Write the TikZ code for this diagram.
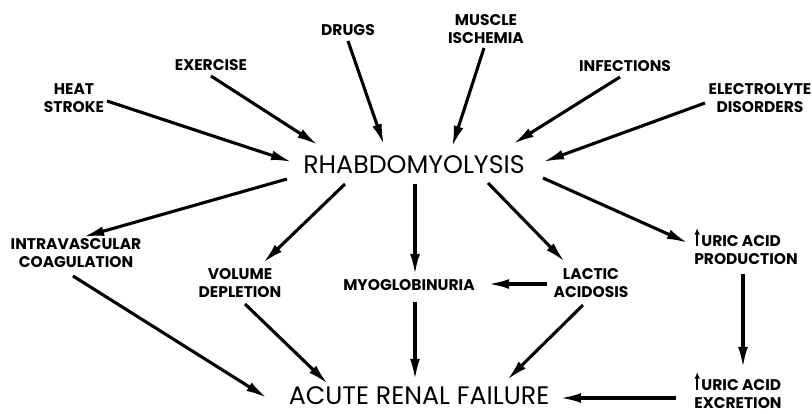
\documentclass[tikz,border=0pt]{standalone}
\usepackage{fontspec}
\setmainfont{Poppins}
\usetikzlibrary{arrows.meta}
\newcommand{\uparr}{\tikz[baseline=0pt]\draw[-{Latex[length=4.5pt,width=4pt]}, line width=1.1pt] (0pt,0pt) -- (0pt,13pt);\kern1pt}

\begin{document}
\begin{tikzpicture}[x=0.025cm, y=-0.025cm, >={Latex[length=15pt,width=7pt]},
  lbl/.style={font=\bfseries\fontsize{11}{12.8}\selectfont, align=center, inner sep=0pt},
  big/.style={font=\fontsize{18}{20}\selectfont, inner sep=0pt},
  arr/.style={->, line width=2.2pt}]
\useasboundingbox (0,0) rectangle (812,414);
% causes
\node[lbl] (heat) at (74,98) {HEAT\\STROKE};
\node[lbl] (exer) at (211,65) {EXERCISE};
\node[lbl] (drugs) at (348,30) {DRUGS};
\node[lbl] (musc) at (486,29) {MUSCLE\\ISCHEMIA};
\node[lbl] (infe) at (625,66) {INFECTIONS};
\node[lbl] (elec) at (760,98) {ELECTROLYTE\\DISORDERS};
\node[big] (rhab) at (414,165) {RHABDOMYOLYSIS};
% consequences
\node[lbl] (intra) at (76,253) {INTRAVASCULAR\\COAGULATION};
\node[lbl] (vol) at (240,283) {VOLUME\\DEPLETION};
\node[lbl] (myo) at (409,285) {MYOGLOBINURIA};
\node[lbl] (lac) at (591,283) {LACTIC\\ACIDOSIS};
\node[lbl, align=left] (uprod) at (746,246) {\uparr URIC ACID\\PRODUCTION};
\node[lbl, align=left] (uexc) at (738,390) {\uparr URIC ACID\\EXCRETION};
\node[big] (arf) at (419,396) {ACUTE RENAL FAILURE};
% arrows into rhabdomyolysis
\draw[arr] ([shift={(33,3)}]heat.center) -- ([shift={(-122,-3)}]rhab.center);
\draw[arr] ([shift={(0,11)}]exer.center) -- ([shift={(-96,-20)}]rhab.center);
\draw[arr] ([shift={(0,11)}]drugs.center) -- ([shift={(-30,-20)}]rhab.center);
\draw[arr] ([shift={(-2,19)}]musc.center) -- ([shift={(38,-18)}]rhab.center);
\draw[arr] ([shift={(-5,11)}]infe.center) -- ([shift={(99,-21)}]rhab.center);
\draw[arr] ([shift={(-55,5)}]elec.center) -- ([shift={(129,-3)}]rhab.center);
% arrows out of rhabdomyolysis
\draw[arr] ([shift={(129,13)}]rhab.center) -- ([shift={(-58,-3)}]uprod.center);
\draw[arr] ([shift={(-127,14)}]rhab.center) -- ([shift={(7,-16)}]intra.center);
\draw[arr] ([shift={(-69,19)}]rhab.center) -- ([shift={(23,-20)}]vol.center);
\draw[arr] ([shift={(1,19)}]rhab.center) -- ([shift={(6,-10)}]myo.center);
\draw[arr] ([shift={(74,18)}]rhab.center) -- ([shift={(-26,-21)}]lac.center);
\draw[arr] ([shift={(-44,1)}]lac.center) -- ([shift={(79,-1)}]myo.center);
% arrows into renal failure
\draw[arr] ([shift={(6,17)}]myo.center) -- ([shift={(-4,-16)}]arf.center);
\draw[arr] ([shift={(5,21)}]vol.center) -- ([shift={(-91,-12)}]arf.center);
\draw[arr] ([shift={(-3,23)}]intra.center) -- ([shift={(-152,2)}]arf.center);
\draw[arr] ([shift={(-8,22)}]lac.center) -- ([shift={(88,-16)}]arf.center);
\draw[arr] ([shift={(-3,28)}]uprod.center) -- ([shift={(5,-22)}]uexc.center);
\draw[arr] ([shift={(-62,8)}]uexc.center) -- ([shift={(141,2)}]arf.center);
\end{tikzpicture}
\end{document}
